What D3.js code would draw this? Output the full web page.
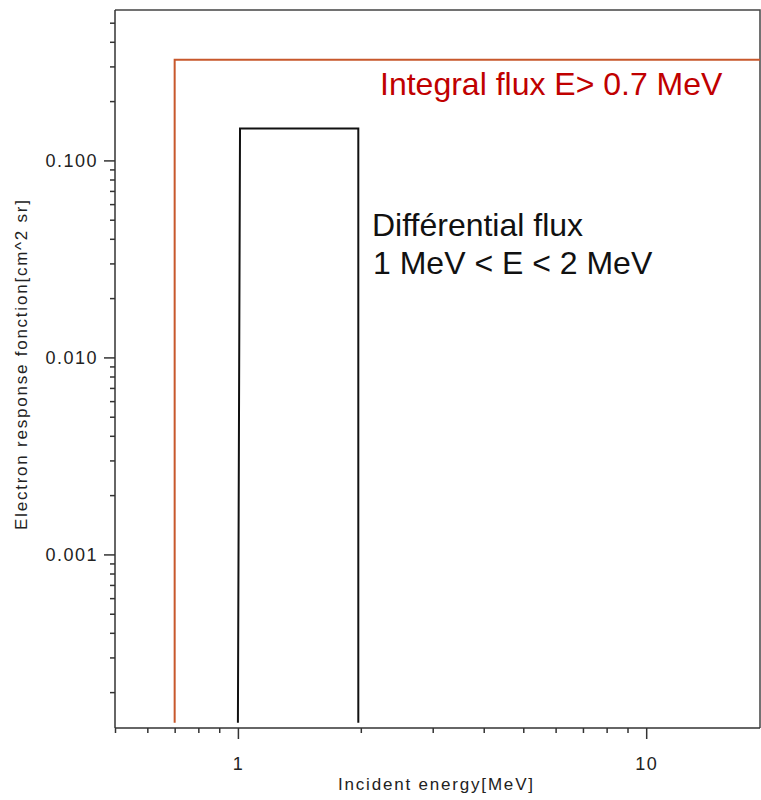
<!DOCTYPE html>
<html>
<head>
<meta charset="utf-8">
<script src="https://cdn.jsdelivr.net/npm/d3@7/dist/d3.min.js"></script>
<style>
  html, body { margin: 0; padding: 0; background: #fff; }
  svg { display: block; }
</style>
</head>
<body>
<svg id="chart" width="761" height="800"></svg>
<script>
// ---- data ----
const integralEnergy = [0.7, 0.7, 19];
const integralResponse = [1.4e-4, 0.324, 0.324];
const diffEnergy = [1.0, 1.012, 1.972, 1.972];
const diffResponse = [1.4e-4, 0.145, 0.145, 1.4e-4];
const xMajorTicks = [1, 10];
const xMajorLabels = ["1", "10"];
const xMinorTicks = [0.5, 0.6, 0.7, 0.8, 0.9, 2, 3, 4, 5, 6, 7, 8, 9];
const yMajorTicks = [0.1, 0.01, 0.001];
const yMajorLabels = ["0.100", "0.010", "0.001"];
const yMinorTicks = [0.5, 0.4, 0.3, 0.2,
  0.09, 0.08, 0.07, 0.06, 0.05, 0.04, 0.03, 0.02,
  0.009, 0.008, 0.007, 0.006, 0.005, 0.004, 0.003, 0.002,
  0.0009, 0.0008, 0.0007, 0.0006, 0.0005, 0.0004, 0.0003, 0.0002];
const xDomain = [0.5, 19];
const yDomain = [1.315e-4, 0.58];
const annIntegral = "Integral flux E> 0.7 MeV";
const annDiff = ["Différential flux", "1 MeV < E < 2 MeV"];
const xTitle = "Incident energy[MeV]";
const yTitle = "Electron response fonction[cm^2 sr]";

// ---- layout ----
const L = 115, R = 760, T = 10, B = 728;
const svg = d3.select("#chart");
const x = d3.scaleLog().domain(xDomain).range([L, R]);
const y = d3.scaleLog().domain(yDomain).range([B, T]);

const axisColor = "#333";
const pixFont = "'Liberation Sans', Arial, sans-serif";

// frame (top & right)
svg.append("path")
  .attr("d", `M${L},${T}H${R}V${B}`)
  .attr("fill", "none").attr("stroke", "#444").attr("stroke-width", 1.5);

// x axis minor ticks
const gxMinor = svg.append("g").attr("transform", `translate(0,${B})`)
  .call(d3.axisBottom(x).tickValues(xMinorTicks).tickSize(5).tickFormat(""));
// x axis major ticks
const gx = svg.append("g").attr("transform", `translate(0,${B})`)
  .call(d3.axisBottom(x).tickValues(xMajorTicks).tickSize(11).tickPadding(18)
    .tickFormat((d, i) => xMajorLabels[i]));
// y axis minor
const gyMinor = svg.append("g").attr("transform", `translate(${L},0)`)
  .call(d3.axisLeft(y).tickValues(yMinorTicks).tickSize(5).tickFormat(""));
// y axis major
const gy = svg.append("g").attr("transform", `translate(${L},0)`)
  .call(d3.axisLeft(y).tickValues(yMajorTicks).tickSize(11).tickPadding(6)
    .tickFormat((d, i) => yMajorLabels[i]));

[gxMinor, gx, gyMinor, gy].forEach(g => {
  g.select(".domain").attr("stroke", axisColor).attr("stroke-width", 1.5);
  g.selectAll(".tick line").attr("stroke", axisColor).attr("stroke-width", 1.5);
  g.selectAll("text").attr("fill", "#222")
    .style("font-family", pixFont).style("font-size", "18px")
    .style("letter-spacing", "1.5px");
});
gx.selectAll(".domain").attr("d", `M${L},0H${R}`);
gy.selectAll(".domain").attr("d", `M0,${B}V${T}`);
gxMinor.select(".domain").remove();
gyMinor.select(".domain").remove();

// curves
const line = d3.line().x(d => x(d[0])).y(d => y(d[1]));
svg.append("path")
  .datum(integralEnergy.map((e, i) => [e, integralResponse[i]]))
  .attr("d", line).attr("fill", "none")
  .attr("stroke", "#c8582c").attr("stroke-width", 2);
svg.append("path")
  .datum(diffEnergy.map((e, i) => [e, diffResponse[i]]))
  .attr("d", line).attr("fill", "none")
  .attr("stroke", "#111").attr("stroke-width", 2);

// annotations
const annFont = "'Liberation Sans', Arial, sans-serif";
svg.append("text").attr("x", 380).attr("y", 95)
  .attr("fill", "#c00000").style("font-family", annFont).style("font-size", "32px")
  .text(annIntegral);
svg.append("text").attr("x", 372).attr("y", 236)
  .attr("fill", "#111").style("font-family", annFont).style("font-size", "32px")
  .text(annDiff[0]);
svg.append("text").attr("x", 373).attr("y", 274)
  .attr("fill", "#111").style("font-family", annFont).style("font-size", "32px")
  .text(annDiff[1]);

// axis titles
svg.append("text").attr("x", 435.5).attr("y", 790)
  .attr("text-anchor", "middle").attr("fill", "#222")
  .style("font-family", pixFont).style("font-size", "17px")
  .attr("textLength", 195).attr("lengthAdjust", "spacing")
  .text(xTitle);
svg.append("text")
  .attr("transform", "translate(27,365) rotate(-90)")
  .attr("text-anchor", "middle").attr("fill", "#222")
  .style("font-family", pixFont).style("font-size", "17px")
  .attr("textLength", 330).attr("lengthAdjust", "spacing")
  .text(yTitle);
</script>
</body>
</html>
